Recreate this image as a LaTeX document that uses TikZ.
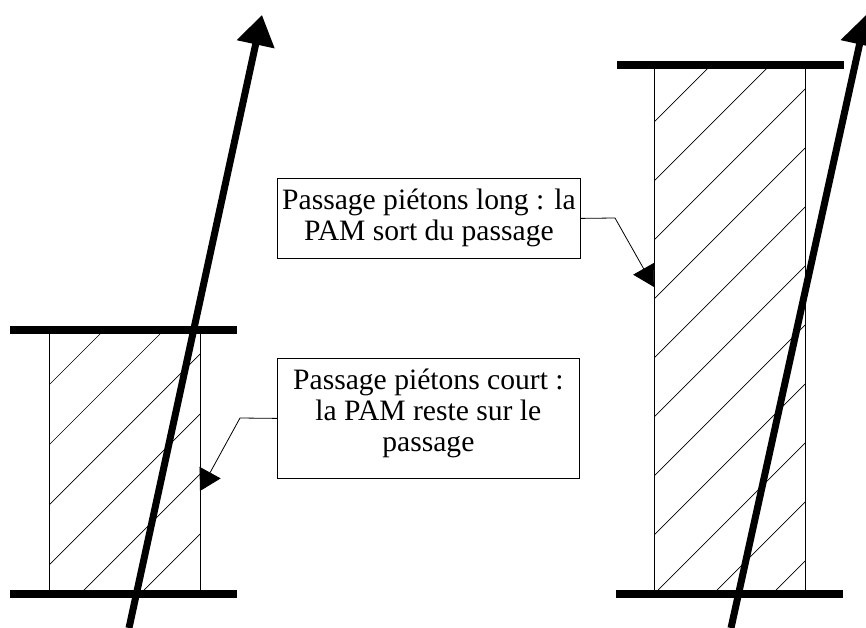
\documentclass[tikz,border=0pt]{standalone}
\usepackage{fontspec}
\setmainfont{Liberation Serif}
\usetikzlibrary{arrows.meta}
\tikzset{
  bar/.style={line width=8pt, line cap=butt},
  edgeline/.style={line width=1pt},
  hatchline/.style={line width=0.7pt},
  pamarrow/.style={line width=7pt, -{Triangle[length=30pt,width=37pt]}},
  callout/.style={line width=0.8pt, -{Triangle[length=21pt,width=24pt]}},
  labelbox/.style={draw, line width=0.8pt, inner sep=0pt, anchor=north west,
    font=\fontsize{29.6}{31}\selectfont}
}
\begin{document}
\begin{tikzpicture}[x=1pt,y=-1pt]
\useasboundingbox (0,0) rectangle (866,628);
% ---- left (short) crossing ----
\begin{scope}
  \clip (49,330) rectangle (200,594);
  \foreach \c in {434,494,...,794}
    \draw[hatchline] (\c-660,660) -- (\c-300,300);
\end{scope}
\draw[edgeline] (49,330) -- (49,594);
\draw[edgeline] (200,330) -- (200,594);
\draw[bar] (10,330) -- (237,330);
\draw[bar] (10,594) -- (237,594);
% ---- right (long) crossing ----
\begin{scope}
  \clip (654,65) rectangle (805,594);
  \foreach \c in {776,835,...,1430}
    \draw[hatchline] (\c-660,660) -- (\c-40,40);
\end{scope}
\draw[edgeline] (654,65) -- (654,594);
\draw[edgeline] (805,65) -- (805,594);
\draw[bar] (617,65) -- (844,65);
\draw[bar] (616,594) -- (843,594);
% ---- trajectories ----
\coordinate (la0) at (129,628);
\coordinate (la1) at (262,15);
\coordinate (ra0) at (731,628);
\coordinate (ra1) at (866,15);
\draw[pamarrow] (la0) -- (la1);
\draw[pamarrow] (ra0) -- (ra1);
% ---- labels ----
\node[labelbox] (longbox) at (277,178)
  {\parbox[b][80pt][t]{303pt}{\centering\rule{0pt}{31pt}Passage piétons long : la\\PAM sort du passage}};
\node[labelbox] (shortbox) at (277,358)
  {\parbox[b][120pt][t]{302pt}{\centering\rule{0pt}{31pt}Passage piétons court :\\la PAM reste sur le\\passage}};
% ---- callouts ----
\coordinate (lbend) at (615,218);
\coordinate (ltip) at (654,287);
\coordinate (sbend) at (240,418);
\coordinate (stip) at (200,491);
\draw[callout] (longbox.east) -- (lbend) -- (ltip);
\draw[callout] (shortbox.west) -- (sbend) -- (stip);
\end{tikzpicture}
\end{document}
